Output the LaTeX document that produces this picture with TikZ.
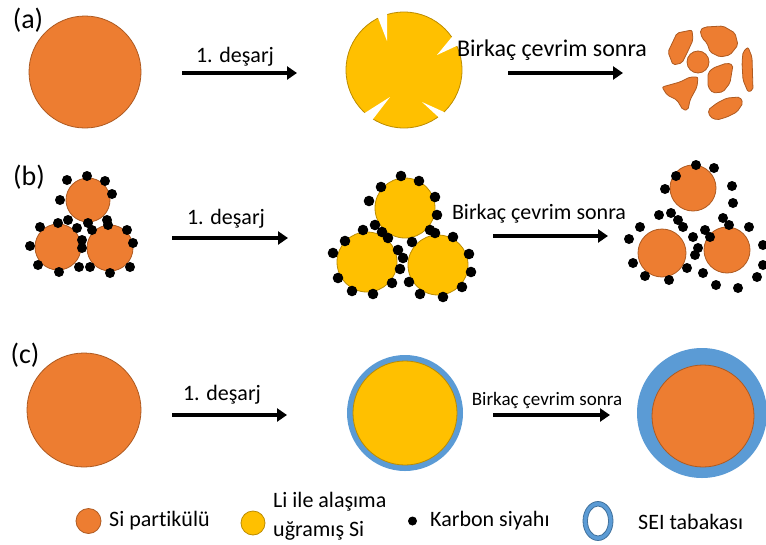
\documentclass[tikz,border=0pt]{standalone}
\usepackage{fontspec}
\setmainfont{Carlito}[Ligatures=NoCommon]
\usetikzlibrary{arrows.meta}
\definecolor{siorange}{HTML}{ED7D31}
\definecolor{siedge}{HTML}{AE5A21}
\definecolor{liyellow}{HTML}{FFC000}
\definecolor{liedge}{HTML}{BC8C00}
\definecolor{seiblue}{HTML}{5B9BD5}
\definecolor{seiedge}{HTML}{41719C}
\begin{document}
\begin{tikzpicture}[x=1pt,y=-1pt,
  sipart/.style={circle,fill=siorange,draw=siedge,line width=0.8pt,inner sep=0pt},
  lipart/.style={circle,fill=liyellow,draw=liedge,line width=0.8pt,inner sep=0pt},
  seiring/.style={circle,fill=seiblue,inner sep=0pt},
  cbdot/.style={fill=black},
  arr/.style={line width=3.6pt,-{Triangle[length=10pt,width=13pt]}},
  lbl/.style={font=\fontsize{22}{26}\selectfont,inner sep=0pt},
  panel/.style={font=\fontsize{28}{32}\selectfont,inner sep=0pt},
  frag/.style={fill=siorange,draw=siedge,line width=0.8pt,rounded corners=2pt}]
\useasboundingbox[fill=white] (0,0) rectangle (766,544);

% ---------------- row (a) ----------------
\node[panel] (pa) at (28,20) {(a)};
\node[sipart,minimum size=112pt] (a0) at (85,72) {};
\coordinate (a1s) at (182,73);
\coordinate (a1e) at (297,73);
\draw[arr] (a1s) -- (a1e);
\node[lbl] (ta1) at (235,57) {1. deşarj};

% lithiated particle with cracks
\node[lipart,minimum size=116pt] (a1) at (404,70) {};
\fill[white] (387,41) -- (375,10) -- (387,6) -- cycle;
\fill[white] (437,55) -- (456,32) -- (465,42) -- cycle;
\fill[white] (390,97) -- (360,116) -- (370,123) -- cycle;
\fill[white] (422,102) -- (444,112) -- (446,124) -- cycle;

\coordinate (a2s) at (508,73);
\coordinate (a2e) at (623,73);
\draw[arr] (a2s) -- (a2e);
\node[lbl,font=\fontsize{24}{28}\selectfont] (ta2) at (552,50) {Birkaç çevrim sonra};

% fragments after cycling
\node[sipart,minimum size=22pt] (a2) at (698,62) {};
\filldraw[frag] (668,52) -- (677,33) -- (692,30) -- (693,40) -- (687,53) -- (682,63) -- (673,65) -- cycle;
\filldraw[frag] (700,30) -- (705,27) -- (723,26) -- (735,33) -- (738,45) -- (730,55) -- (720,57) -- (710,52) -- (707,43) -- (702,38) -- cycle;
\filldraw[frag] (743,52) -- (748,47) -- (752,57) -- (753,90) -- (748,92) -- (743,80) -- (742,63) -- cycle;
\filldraw[frag] (708,73) -- (713,68) -- (727,63) -- (733,65) -- (730,83) -- (723,92) -- (713,93) -- (708,87) -- cycle;
\filldraw[frag] (662,87) -- (680,82) -- (690,77) -- (698,77) -- (697,87) -- (690,100) -- (688,110) -- (683,110) -- (677,100) -- (667,95) -- cycle;
\filldraw[frag] (708,110) -- (717,103) -- (727,98) -- (740,97) -- (743,103) -- (737,112) -- (727,117) -- (717,120) -- (710,117) -- cycle;

% ---------------- row (b) ----------------
\node[panel] (pb) at (29,177) {(b)};
\node[sipart,minimum size=44pt] (b0t) at (88,200) {};
\node[sipart,minimum size=46pt] (b0l) at (58,247) {};
\node[sipart,minimum size=46pt] (b0r) at (110,248) {};
\foreach \p in {(67,180),(87,176),(105,181),(112,194),(60,200),(68,220),(58,223),
  (88,223),(92,230),(107,220),(108,225),(40,227),(77,228),(82,240),(82,248),(30,246),
  (127,230),(133,243),(38,265),(59,272),(79,267),(90,267),(110,273),(130,267)}
  \fill[cbdot] \p circle (5pt);

\coordinate (b1s) at (172,238);
\coordinate (b1e) at (288,238);
\draw[arr] (b1s) -- (b1e);
\node[lbl] (tb1) at (226,219) {1. deşarj};

\node[lipart,minimum size=60pt] (b1t) at (405,208) {};
\node[lipart,minimum size=60pt] (b1l) at (367,262) {};
\node[lipart,minimum size=60pt] (b1r) at (438,265) {};
\foreach \p in {(401,176),(419,181),(381,187),(369,201),(435,197),(437,215),(375,225),
  (382,232),(388,238),(363,230),(345,241),(333,253),(398,250),(403,258),(400,269),
  (412,242),(430,230),(435,233),(453,237),(469,254),(471,272),(462,287),(443,297),
  (420,294),(409,282),(392,283),(373,294),(352,291),(338,278)}
  \fill[cbdot] \p circle (5.3pt);

\coordinate (b2s) at (493,236);
\coordinate (b2e) at (608,236);
\draw[arr] (b2s) -- (b2e);
\node[lbl] (tb2) at (539,214) {Birkaç çevrim sonra};

\node[sipart,minimum size=46pt] (b2t) at (693,188) {};
\node[sipart,minimum size=48pt] (b2l) at (662,253) {};
\node[sipart,minimum size=46pt] (b2r) at (727,250) {};
\foreach \p in {(696,165),(714,168),(676,176),(665,189),(732,186),(733,203),(659,215),
  (671,213),(678,220),(683,227),(640,227),(629,239),(723,218),(729,225),(705,230),
  (710,237),(749,227),(693,237),(698,248),(695,255),(633,263),(687,268),(645,276),
  (669,280),(703,273),(716,285),(738,288),(757,277),(763,265),(763,245)}
  \fill[cbdot] \p circle (5pt);

% ---------------- row (c) ----------------
\node[panel] (pc) at (25,355) {(c)};
\node[sipart,minimum size=114pt] (c0) at (84,410) {};
\coordinate (c1s) at (172,415);
\coordinate (c1e) at (287,415);
\draw[arr] (c1s) -- (c1e);
\node[lbl] (tc1) at (222,395) {1. deşarj};

\node[seiring,minimum size=116pt] (c1o) at (405,413) {};
\node[lipart,minimum size=104pt] (c1) at (405,413) {};

\coordinate (c2s) at (493,415);
\coordinate (c2e) at (610,415);
\draw[arr] (c2s) -- (c2e);
\node[lbl,font=\fontsize{19}{23}\selectfont] (tc2) at (547,400) {Birkaç çevrim sonra};

\node[seiring,minimum size=130pt] (c2o) at (702,413) {};
\node[sipart,minimum size=102pt] (c2) at (703,416) {};

% ---------------- legend ----------------
\node[sipart,minimum size=25pt] (lg1) at (88.5,521) {};
\node[lbl,anchor=west] (lt1) at (109,521) {Si partikülü};
\node[lipart,minimum size=24pt] (lg2) at (253,523) {};
\node[lbl,anchor=west] (lt2a) at (273,502) {Li ile alaşıma};
\node[lbl,anchor=west] (lt2b) at (273,531) {uğramış Si};
\fill[cbdot] (412.5,521) circle (4.5pt);
\node[lbl,anchor=west] (lt3) at (430,521) {Karbon siyahı};
\filldraw[seiblue,draw=seiedge,line width=0.8pt,even odd rule]
  (598,521) ellipse (15pt and 19.5pt) (598,521) ellipse (10.5pt and 15pt);
\node[lbl,anchor=west] (lt4) at (638,522) {SEI tabakası};
\end{tikzpicture}
\end{document}
